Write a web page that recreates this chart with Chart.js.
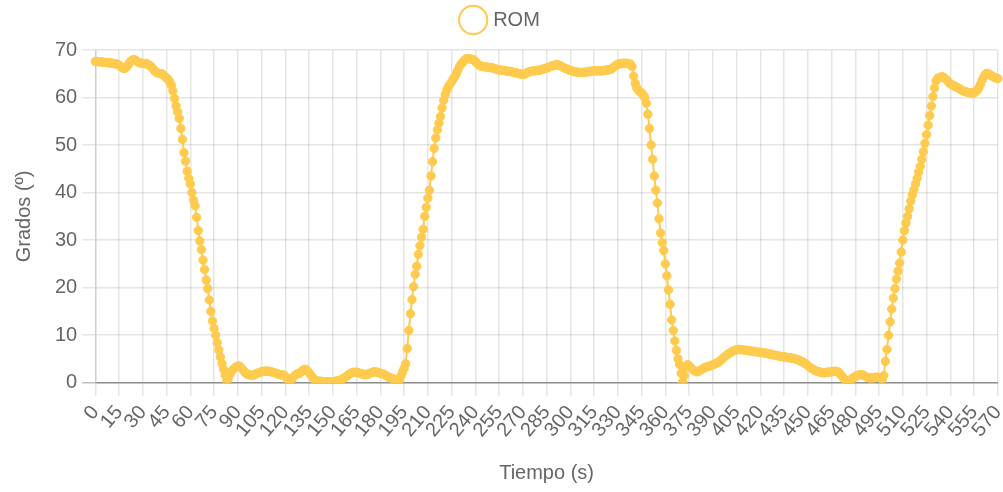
<!DOCTYPE html>
<html lang="es">
<head>
<meta charset="utf-8">
<title>ROM</title>
<script src="https://cdn.jsdelivr.net/npm/chart.js@4.4.1/dist/chart.umd.min.js"></script>
<style>
  html, body { margin: 0; padding: 0; background: #fff; }
  #wrap { width: 1003px; height: 492px; position: relative; }
</style>
</head>
<body>
<div id="wrap"><canvas id="chart"></canvas></div>
<script>
// Range of motion (degrees), one sample per second, t = 0 … 570 s
const romRow00 = [67.6, 67.6, 67.5, 67.5, 67.5, 67.4, 67.4, 67.4, 67.3, 67.3, 67.3, 67.2, 67.1, 67.1, 67.0];
const romRow15 = [66.8, 66.5, 66.3, 66.1, 66.2, 66.5, 67.0, 67.5, 67.8, 68.0, 67.9, 67.7, 67.4, 67.3, 67.2];
const romRow30 = [67.2, 67.1, 67.2, 67.0, 66.8, 66.6, 66.2, 65.8, 65.4, 65.2, 65.1, 65.0, 65.0, 64.7, 64.4];
const romRow45 = [64.1, 63.8, 63.3, 62.6, 61.4, 59.8, 58.2, 57.0, 55.6, 53.5, 51.2, 48.4, 46.6, 44.5, 43.0];
const romRow60 = [41.8, 40.0, 38.4, 37.2, 34.8, 32.0, 29.8, 28.0, 25.8, 23.8, 21.6, 19.8, 17.4, 15.0, 13.0];
const romRow75 = [11.4, 10.0, 8.4, 6.9, 5.4, 4.0, 2.8, 1.6, 0.4, 0.9, 1.8, 2.4, 2.8, 3.1, 3.3];
const romRow90 = [3.5, 3.5, 3.2, 2.8, 2.4, 2.0, 1.8, 1.7, 1.6, 1.5, 1.6, 1.8, 1.9, 2.1, 2.2];
const romRow105 = [2.3, 2.4, 2.4, 2.5, 2.4, 2.4, 2.3, 2.2, 2.1, 2.0, 1.9, 1.7, 1.7, 1.6, 1.6];
const romRow120 = [1.3, 0.9, 0.5, 0.3, 0.7, 1.2, 1.5, 1.8, 1.9, 2.0, 2.3, 2.6, 2.8, 2.8, 2.5];
const romRow135 = [2.1, 1.6, 1.2, 0.8, 0.5, 0.4, 0.3, 0.3, 0.3, 0.2, 0.2, 0.2, 0.2, 0.2, 0.2];
const romRow150 = [0.2, 0.3, 0.3, 0.4, 0.5, 0.6, 0.8, 1.0, 1.2, 1.4, 1.7, 1.9, 2.1, 2.2, 2.2];
const romRow165 = [2.2, 2.1, 2.0, 1.9, 1.8, 1.7, 1.7, 1.8, 1.9, 2.1, 2.2, 2.3, 2.3, 2.2, 2.1];
const romRow180 = [2.0, 1.9, 1.8, 1.6, 1.4, 1.2, 1.1, 1.0, 0.8, 0.6, 0.4, 0.2, 0.6, 1.4, 2.2];
const romRow195 = [3.0, 4.0, 7.2, 11.0, 14.5, 17.5, 20.2, 22.8, 24.5, 27.0, 28.8, 30.6, 32.3, 35.0, 36.9];
const romRow210 = [38.8, 40.5, 43.5, 46.5, 49.3, 51.5, 53.2, 54.6, 56.0, 57.8, 59.4, 60.6, 61.6, 62.3, 62.8];
const romRow225 = [63.3, 63.9, 64.4, 65.0, 65.8, 66.5, 67.0, 67.4, 67.8, 68.1, 68.2, 68.2, 68.1, 68.0, 67.9];
const romRow240 = [67.6, 67.2, 66.9, 66.7, 66.6, 66.5, 66.5, 66.4, 66.4, 66.3, 66.3, 66.2, 66.1, 66.0, 65.9];
const romRow255 = [65.8, 65.8, 65.7, 65.7, 65.6, 65.6, 65.5, 65.5, 65.4, 65.3, 65.2, 65.2, 65.1, 65.0, 64.9];
const romRow270 = [64.9, 64.9, 65.1, 65.3, 65.4, 65.5, 65.6, 65.6, 65.6, 65.7, 65.7, 65.8, 65.9, 66.0, 66.1];
const romRow285 = [66.2, 66.3, 66.5, 66.6, 66.7, 66.8, 66.9, 66.9, 66.8, 66.6, 66.4, 66.3, 66.1, 66.0, 65.8];
const romRow300 = [65.7, 65.6, 65.5, 65.4, 65.4, 65.3, 65.3, 65.3, 65.3, 65.3, 65.4, 65.4, 65.5, 65.5, 65.6];
const romRow315 = [65.6, 65.6, 65.6, 65.6, 65.6, 65.6, 65.7, 65.7, 65.8, 65.8, 65.9, 66.0, 66.3, 66.6, 66.8];
const romRow330 = [67.0, 67.1, 67.1, 67.2, 67.2, 67.2, 67.2, 67.1, 67.0, 66.5, 64.5, 63.0, 62.0, 61.5, 61.2];
const romRow345 = [61.0, 60.6, 60.0, 58.8, 56.5, 53.5, 50.0, 47.0, 43.5, 40.5, 37.8, 34.5, 31.5, 29.5, 27.8];
const romRow360 = [25.0, 22.5, 19.5, 16.5, 13.2, 11.0, 8.8, 6.8, 5.0, 3.8, 2.0, 0.2, 1.5, 3.2, 3.8];
const romRow375 = [3.6, 3.2, 2.9, 2.6, 2.4, 2.3, 2.4, 2.6, 2.8, 3.0, 3.2, 3.3, 3.4, 3.5, 3.6];
const romRow390 = [3.8, 3.9, 4.1, 4.2, 4.4, 4.7, 5.0, 5.3, 5.6, 5.9, 6.1, 6.3, 6.5, 6.7, 6.8];
const romRow405 = [6.9, 7.0, 7.0, 7.0, 6.9, 6.9, 6.8, 6.8, 6.7, 6.7, 6.6, 6.6, 6.5, 6.5, 6.4];
const romRow420 = [6.4, 6.3, 6.3, 6.2, 6.2, 6.1, 6.0, 6.0, 5.9, 5.8, 5.7, 5.7, 5.6, 5.5, 5.5];
const romRow435 = [5.4, 5.4, 5.3, 5.3, 5.2, 5.2, 5.1, 5.0, 4.9, 4.8, 4.6, 4.5, 4.3, 4.1, 3.9];
const romRow450 = [3.6, 3.3, 3.1, 2.9, 2.7, 2.5, 2.4, 2.3, 2.2, 2.1, 2.1, 2.1, 2.2, 2.2, 2.3];
const romRow465 = [2.3, 2.4, 2.4, 2.4, 2.3, 2.0, 1.6, 1.2, 0.8, 0.5, 0.4, 0.4, 0.6, 0.8, 1.1];
const romRow480 = [1.3, 1.5, 1.6, 1.7, 1.7, 1.6, 1.4, 1.2, 1.1, 1.0, 1.0, 1.0, 1.1, 1.1, 1.2];
const romRow495 = [1.1, 1.0, 0.7, 1.5, 4.5, 7.0, 10.0, 12.8, 15.5, 17.8, 19.8, 21.8, 23.5, 25.2, 27.5];
const romRow510 = [30.0, 32.0, 33.6, 35.0, 36.6, 38.2, 39.5, 40.6, 41.8, 43.0, 44.3, 45.5, 47.0, 48.6, 50.4];
const romRow525 = [52.2, 54.2, 56.2, 58.2, 60.2, 62.0, 63.5, 64.0, 64.2, 64.3, 64.4, 64.2, 63.9, 63.6, 63.2];
const romRow540 = [62.9, 62.7, 62.5, 62.3, 62.2, 62.0, 61.8, 61.6, 61.4, 61.3, 61.2, 61.1, 61.0, 61.0, 60.9];
const romRow555 = [61.0, 61.2, 61.5, 62.0, 62.8, 63.6, 64.3, 64.8, 65.1, 65.0, 64.8, 64.6, 64.4, 64.2, 64.1];
const romRow570 = [64.0];

const rom = [].concat(
  romRow00, romRow15, romRow30, romRow45, romRow60, romRow75, romRow90, romRow105,
  romRow120, romRow135, romRow150, romRow165, romRow180, romRow195, romRow210,
  romRow225, romRow240, romRow255, romRow270, romRow285, romRow300, romRow315,
  romRow330, romRow345, romRow360, romRow375, romRow390, romRow405, romRow420,
  romRow435, romRow450, romRow465, romRow480, romRow495, romRow510, romRow525,
  romRow540, romRow555, romRow570
);

// Time labels in seconds, one per sample
const seconds = rom.map((_, i) => String(i));
// A labelled tick (and grid line) every 15 s
const LABEL_EVERY = 15;
const yTicks = { min: 0, max: 70, step: 10 };

const S = 1.65; // overall display scale
const YELLOW = 'rgb(255, 203, 78)';
const GRID = 'rgba(0, 0, 0, 0.1)';
const AXIS = 'rgba(0, 0, 0, 0.25)';

Chart.defaults.font.family = "'Liberation Sans', Arial, Helvetica, sans-serif";
Chart.defaults.font.size = 20;
Chart.defaults.color = '#666';

// Extra room between the legend and the plot area
const legendGap = {
  id: 'legendGap',
  beforeInit(chart) {
    const fit = chart.legend.fit;
    chart.legend.fit = function () {
      fit.call(this);
      this.height += 10;
    };
  }
};

new Chart(document.getElementById('chart'), {
  type: 'line',
  data: {
    labels: seconds,
    datasets: [{
      label: 'ROM',
      data: rom,
      borderColor: YELLOW,
      backgroundColor: 'rgba(255, 255, 255, 0)',
      borderWidth: 2,
      pointRadius: 4.2,
      pointBorderWidth: 1,
      pointBackgroundColor: YELLOW,
      pointBorderColor: YELLOW,
      fill: false,
      tension: 0
    }]
  },
  plugins: [legendGap],
  options: {
    responsive: true,
    maintainAspectRatio: false,
    animation: false,
    layout: { padding: 0 },
    plugins: {
      legend: {
        display: true,
        position: 'top',
        labels: {
          usePointStyle: true,
          pointStyle: 'circle',
          padding: 10,
          color: '#666',
          generateLabels(chart) {
            // hollow ring in the legend
            return Chart.defaults.plugins.legend.labels.generateLabels(chart).map((item) => ({
              ...item,
              fillStyle: 'rgba(255, 255, 255, 0)',
              strokeStyle: YELLOW,
              lineWidth: 2
            }));
          }
        }
      },
      tooltip: { enabled: false }
    },
    scales: {
      x: {
        type: 'category',
        afterFit(scale) {
          scale.paddingRight = 2;
        },
        ticks: {
          autoSkip: false,
          minRotation: 50,
          maxRotation: 50,
          padding: 3 * S,
          callback: function (value, index) {
            return index % LABEL_EVERY === 0 ? this.getLabelForValue(value) : null;
          }
        },
        grid: {
          lineWidth: 1.5,
          tickLength: 8 * S,
          color: GRID
        },
        border: { color: AXIS, width: 1.5 },
        title: {
          display: true,
          text: 'Tiempo (s)',
          padding: { top: 4 * S + 8, bottom: 4 * S }
        }
      },
      y: {
        min: yTicks.min,
        max: yTicks.max,
        ticks: { stepSize: yTicks.step, padding: 3 * S },
        grid: {
          lineWidth: 1.5,
          tickLength: 8 * S,
          color: (ctx) => (ctx.tick && ctx.tick.value === 0 ? AXIS : GRID)
        },
        border: { color: GRID, width: 1.5 },
        title: {
          display: true,
          text: 'Grados (º)',
          padding: { top: 12, bottom: 14 }
        }
      }
    }
  }
});
</script>
</body>
</html>
